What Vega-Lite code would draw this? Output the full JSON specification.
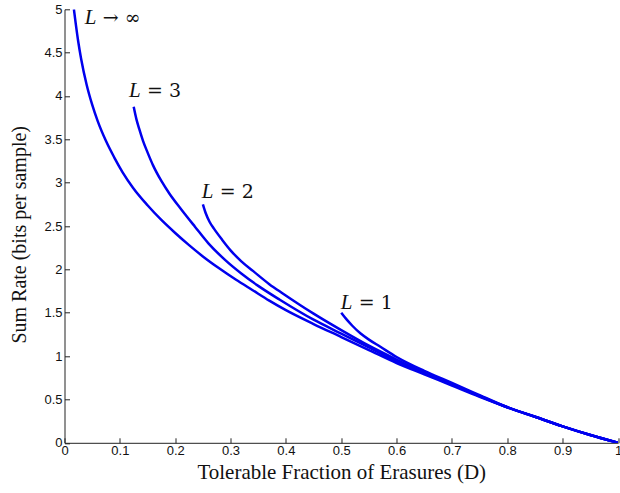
{
  "$schema": "https://vega.github.io/schema/vega-lite/v6.json",
  "autosize": {"type": "none"},
  "padding": {"left": 64.5, "top": 9.3, "right": 2, "bottom": 50},
  "width": 553.5,
  "height": 433.5,
  "background": "#ffffff",
  "config": {
    "view": {"stroke": null},
    "axis": {
      "grid": false,
      "domainColor": "#222222",
      "domainWidth": 1,
      "tickColor": "#222222",
      "tickSize": -5,
      "tickWidth": 1,
      "labelFont": "Liberation Sans",
      "labelFontSize": 13,
      "labelColor": "#111111",
      "titleFont": "Liberation Serif",
      "titleFontSize": 20,
      "titleFontWeight": "normal",
      "titleColor": "#111111"
    }
  },
  "datasets": {
    "curves": [
      {"series": "inf", "D": 0.017, "R": 5.0},
      {"series": "inf", "D": 0.020, "R": 4.85},
      {"series": "inf", "D": 0.025, "R": 4.62},
      {"series": "inf", "D": 0.030, "R": 4.43},
      {"series": "inf", "D": 0.040, "R": 4.13},
      {"series": "inf", "D": 0.050, "R": 3.90},
      {"series": "inf", "D": 0.060, "R": 3.71},
      {"series": "inf", "D": 0.075, "R": 3.48},
      {"series": "inf", "D": 0.090, "R": 3.29},
      {"series": "inf", "D": 0.105, "R": 3.12},
      {"series": "inf", "D": 0.124, "R": 2.94},
      {"series": "inf", "D": 0.150, "R": 2.74},
      {"series": "inf", "D": 0.175, "R": 2.57},
      {"series": "inf", "D": 0.200, "R": 2.42},
      {"series": "inf", "D": 0.225, "R": 2.28},
      {"series": "inf", "D": 0.250, "R": 2.15},
      {"series": "inf", "D": 0.280, "R": 2.01},
      {"series": "inf", "D": 0.310, "R": 1.88},
      {"series": "inf", "D": 0.340, "R": 1.76},
      {"series": "inf", "D": 0.370, "R": 1.64},
      {"series": "inf", "D": 0.400, "R": 1.53},
      {"series": "inf", "D": 0.450, "R": 1.37},
      {"series": "inf", "D": 0.500, "R": 1.22},
      {"series": "inf", "D": 0.550, "R": 1.07},
      {"series": "inf", "D": 0.600, "R": 0.92},
      {"series": "inf", "D": 0.650, "R": 0.79},
      {"series": "inf", "D": 0.700, "R": 0.66},
      {"series": "inf", "D": 0.750, "R": 0.53},
      {"series": "inf", "D": 0.800, "R": 0.41},
      {"series": "inf", "D": 0.850, "R": 0.30},
      {"series": "inf", "D": 0.900, "R": 0.19},
      {"series": "inf", "D": 0.950, "R": 0.09},
      {"series": "inf", "D": 1.000, "R": 0.0},
      {"series": "L3", "D": 0.125, "R": 3.875},
      {"series": "L3", "D": 0.130, "R": 3.73},
      {"series": "L3", "D": 0.135, "R": 3.62},
      {"series": "L3", "D": 0.142, "R": 3.48},
      {"series": "L3", "D": 0.150, "R": 3.35},
      {"series": "L3", "D": 0.160, "R": 3.20},
      {"series": "L3", "D": 0.175, "R": 3.02},
      {"series": "L3", "D": 0.190, "R": 2.87},
      {"series": "L3", "D": 0.210, "R": 2.70},
      {"series": "L3", "D": 0.236, "R": 2.49},
      {"series": "L3", "D": 0.260, "R": 2.30},
      {"series": "L3", "D": 0.290, "R": 2.11},
      {"series": "L3", "D": 0.320, "R": 1.95},
      {"series": "L3", "D": 0.350, "R": 1.81},
      {"series": "L3", "D": 0.389, "R": 1.65},
      {"series": "L3", "D": 0.450, "R": 1.42},
      {"series": "L3", "D": 0.500, "R": 1.26},
      {"series": "L3", "D": 0.550, "R": 1.10},
      {"series": "L3", "D": 0.600, "R": 0.94},
      {"series": "L3", "D": 0.650, "R": 0.80},
      {"series": "L3", "D": 0.700, "R": 0.67},
      {"series": "L3", "D": 0.750, "R": 0.54},
      {"series": "L3", "D": 0.800, "R": 0.41},
      {"series": "L3", "D": 0.850, "R": 0.30},
      {"series": "L3", "D": 0.900, "R": 0.19},
      {"series": "L3", "D": 0.950, "R": 0.09},
      {"series": "L3", "D": 1.000, "R": 0.0},
      {"series": "L2", "D": 0.250, "R": 2.75},
      {"series": "L2", "D": 0.255, "R": 2.65},
      {"series": "L2", "D": 0.262, "R": 2.55},
      {"series": "L2", "D": 0.270, "R": 2.47},
      {"series": "L2", "D": 0.285, "R": 2.34},
      {"series": "L2", "D": 0.300, "R": 2.22},
      {"series": "L2", "D": 0.320, "R": 2.09},
      {"series": "L2", "D": 0.341, "R": 1.98},
      {"series": "L2", "D": 0.370, "R": 1.83},
      {"series": "L2", "D": 0.395, "R": 1.72},
      {"series": "L2", "D": 0.450, "R": 1.49},
      {"series": "L2", "D": 0.500, "R": 1.30},
      {"series": "L2", "D": 0.550, "R": 1.12},
      {"series": "L2", "D": 0.600, "R": 0.96},
      {"series": "L2", "D": 0.650, "R": 0.81},
      {"series": "L2", "D": 0.700, "R": 0.68},
      {"series": "L2", "D": 0.750, "R": 0.54},
      {"series": "L2", "D": 0.800, "R": 0.41},
      {"series": "L2", "D": 0.850, "R": 0.30},
      {"series": "L2", "D": 0.900, "R": 0.19},
      {"series": "L2", "D": 0.950, "R": 0.09},
      {"series": "L2", "D": 1.000, "R": 0.0},
      {"series": "L1", "D": 0.500, "R": 1.50},
      {"series": "L1", "D": 0.510, "R": 1.42},
      {"series": "L1", "D": 0.520, "R": 1.35},
      {"series": "L1", "D": 0.535, "R": 1.26},
      {"series": "L1", "D": 0.550, "R": 1.19},
      {"series": "L1", "D": 0.570, "R": 1.11},
      {"series": "L1", "D": 0.600, "R": 0.99},
      {"series": "L1", "D": 0.650, "R": 0.83},
      {"series": "L1", "D": 0.700, "R": 0.69},
      {"series": "L1", "D": 0.750, "R": 0.55},
      {"series": "L1", "D": 0.800, "R": 0.41},
      {"series": "L1", "D": 0.850, "R": 0.30},
      {"series": "L1", "D": 0.900, "R": 0.19},
      {"series": "L1", "D": 0.950, "R": 0.09},
      {"series": "L1", "D": 1.000, "R": 0.0}
    ],
    "labels": [
      {"lab": "L", "rest": "→ ∞", "D": 0.0365, "R": 4.896},
      {"lab": "L", "rest": "= 3", "D": 0.1165, "R": 4.061},
      {"lab": "L", "rest": "= 2", "D": 0.2479, "R": 2.896},
      {"lab": "L", "rest": "= 1", "D": 0.499, "R": 1.616}
    ]
  },
  "layer": [
    {
      "data": {"name": "curves"},
      "mark": {"type": "line", "color": "#0000ee", "strokeWidth": 2.5, "clip": true, "interpolate": "monotone"},
      "encoding": {
        "x": {
          "field": "D", "type": "quantitative",
          "scale": {"domain": [0, 1], "nice": false},
          "axis": {
            "title": "Tolerable Fraction of Erasures (D)",
            "titleFontSize": 21,
            "values": [0, 0.1, 0.2, 0.3, 0.4, 0.5, 0.6, 0.7, 0.8, 0.9, 1],
            "format": "~g",
            "labelPadding": 7,
            "labelFlush": false,
            "titleX": 276.75,
            "titleY": 30,
            "titleBaseline": "middle",
            "titleAnchor": "middle"
          }
        },
        "y": {
          "field": "R", "type": "quantitative",
          "scale": {"domain": [0, 5], "nice": false},
          "axis": {
            "title": "Sum Rate (bits per sample)",
            "values": [0, 0.5, 1, 1.5, 2, 2.5, 3, 3.5, 4, 4.5, 5],
            "format": "~g",
            "labelPadding": 7.5,
            "labelFlush": false,
            "titleX": -45,
            "titleY": 225,
            "titleAngle": -90,
            "titleBaseline": "middle",
            "titleAlign": "center"
          }
        },
        "detail": {"field": "series"}
      }
    },
    {
      "data": {"name": "labels"},
      "mark": {"type": "text", "font": "Liberation Serif", "fontSize": 21, "fontStyle": "italic", "align": "left", "baseline": "middle", "color": "#111111"},
      "encoding": {
        "x": {"field": "D", "type": "quantitative"},
        "y": {"field": "R", "type": "quantitative"},
        "text": {"field": "lab"}
      }
    },
    {
      "data": {"name": "labels"},
      "mark": {"type": "text", "font": "DejaVu Serif", "fontSize": 19, "align": "left", "baseline": "middle", "dx": 18, "color": "#111111"},
      "encoding": {
        "x": {"field": "D", "type": "quantitative"},
        "y": {"field": "R", "type": "quantitative"},
        "text": {"field": "rest"}
      }
    }
  ]
}
